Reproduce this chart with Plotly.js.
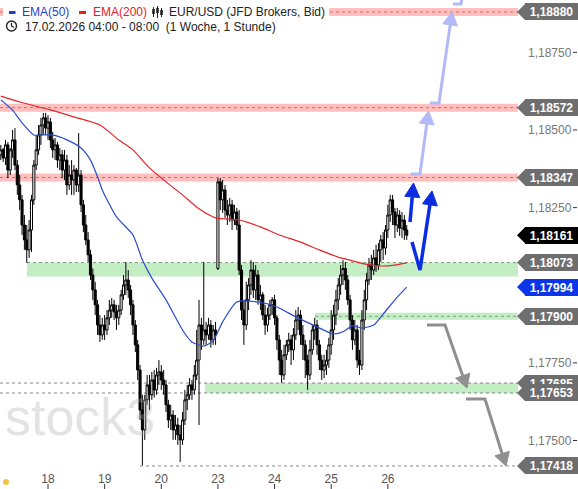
<!DOCTYPE html>
<html><head><meta charset="utf-8">
<script src="https://cdn.plot.ly/plotly-3.0.1.min.js"></script>
<style>html,body{margin:0;padding:0;background:#fff;overflow:hidden}#chart{width:578px;height:489px}</style>
</head><body><div id="chart"></div>
<script>
// ---------- DATA (EUR/USD, 1h candles, 17.02 04:00 -> 26.02 08:00) ----------
const openP = [
1.18420,1.18436,1.18410,1.18452,1.18371,1.18436,1.18468,1.18387,1.18323,1.18275,
1.18194,1.18146,1.18114,1.18178,1.18275,1.18387,1.18436,1.18484,1.18516,1.18539,
1.18506,1.18526,1.18468,1.18436,1.18452,1.18403,1.18420,1.18371,1.18403,1.18323,
1.18355,1.18339,1.18371,1.18323,1.18355,1.18259,1.18194,1.18146,1.18098,1.18033,
1.17985,1.17937,1.17872,1.17840,1.17872,1.17856,1.17895,1.17920,1.17937,1.17914,
1.17895,1.17920,1.17969,1.18001,1.18017,1.17985,1.17937,1.17872,1.17808,1.17727,
1.17598,1.17534,1.17631,1.17679,1.17647,1.17695,1.17663,1.17711,1.17721,1.17695,
1.17679,1.17615,1.17566,1.17582,1.17534,1.17550,1.17518,1.17502,1.17566,1.17631,
1.17647,1.17679,1.17663,1.17711,1.17759,1.17872,1.17824,1.17856,1.17840,1.17872,
1.17824,1.17856,1.18054,1.18333,1.18275,1.18307,1.18242,1.18226,1.18259,1.18210,
1.18236,1.18194,1.18049,1.17920,1.17872,1.17953,1.18001,1.18049,1.17985,1.18033,
1.17953,1.17969,1.17904,1.17872,1.17904,1.17937,1.17953,1.17895,1.17824,1.17759,
1.17711,1.17776,1.17808,1.17824,1.17792,1.17840,1.17888,1.17904,1.17840,1.17808,
1.17759,1.17711,1.17792,1.17856,1.17872,1.17808,1.17759,1.17727,1.17743,1.17759,
1.17808,1.17856,1.17904,1.17953,1.18001,1.18033,1.18054,1.18017,1.17953,1.17888,
1.17824,1.17856,1.17759,1.17743,1.17888,1.17953,1.18017,1.18065,1.18049,1.18088,
1.18065,1.18114,1.18146,1.18120,1.18178,1.18226,1.18275,1.18236,1.18194,1.18226,
1.18184,1.18210,1.18178];
const highP = [
1.18452,1.18442,1.18468,1.18461,1.18442,1.18500,1.18506,1.18403,1.18355,1.18291,
1.18226,1.18194,1.18210,1.18291,1.18403,1.18484,1.18516,1.18539,1.18555,1.18555,
1.18548,1.18539,1.18494,1.18474,1.18461,1.18442,1.18436,1.18436,1.18420,1.18387,
1.18403,1.18387,1.18378,1.18490,1.18371,1.18275,1.18226,1.18171,1.18114,1.18054,
1.18011,1.17953,1.17904,1.17895,1.17904,1.17920,1.17953,1.17959,1.17953,1.17937,
1.17937,1.17985,1.18033,1.18075,1.18049,1.18001,1.17953,1.17888,1.17824,1.17743,
1.17647,1.17647,1.17711,1.17711,1.17721,1.17727,1.17734,1.17759,1.17743,1.17727,
1.17695,1.17631,1.17615,1.17598,1.17582,1.17573,1.17550,1.17592,1.17663,1.17679,
1.17701,1.17695,1.17743,1.17856,1.17953,1.17895,1.18075,1.17882,1.17895,1.17888,
1.17872,1.17882,1.18345,1.18345,1.18339,1.18323,1.18275,1.18281,1.18275,1.18259,
1.18249,1.18242,1.18065,1.17953,1.18011,1.18023,1.18081,1.18075,1.18065,1.18049,
1.18001,1.17978,1.17937,1.17927,1.17953,1.17962,1.17969,1.17904,1.17840,1.17792,
1.17808,1.17824,1.17847,1.17840,1.17862,1.17920,1.17930,1.17920,1.17872,1.17824,
1.17776,1.17824,1.17872,1.17895,1.17888,1.17824,1.17776,1.17776,1.17792,1.17831,
1.17920,1.17937,1.17985,1.18023,1.18065,1.18081,1.18075,1.18033,1.17969,1.17904,
1.17888,1.17872,1.17792,1.17920,1.17985,1.18040,1.18088,1.18098,1.18114,1.18130,
1.18136,1.18162,1.18171,1.18194,1.18259,1.18291,1.18291,1.18249,1.18249,1.18242,
1.18236,1.18226,1.18194];
const lowP = [
1.18403,1.18397,1.18387,1.18345,1.18355,1.18410,1.18371,1.18291,1.18242,1.18162,
1.18114,1.18072,1.18088,1.18107,1.18259,1.18371,1.18420,1.18452,1.18484,1.18484,
1.18468,1.18442,1.18410,1.18403,1.18378,1.18371,1.18345,1.18339,1.18291,1.18307,
1.18291,1.18291,1.18300,1.18300,1.18236,1.18171,1.18130,1.18075,1.18017,1.17953,
1.17904,1.17840,1.17817,1.17824,1.17824,1.17840,1.17872,1.17895,1.17888,1.17856,
1.17872,1.17904,1.17953,1.17969,1.17959,1.17904,1.17840,1.17785,1.17695,1.17566,
1.17420,1.17502,1.17615,1.17598,1.17631,1.17638,1.17647,1.17679,1.17663,1.17647,
1.17592,1.17540,1.17534,1.17502,1.17502,1.17486,1.17431,1.17486,1.17550,1.17598,
1.17631,1.17631,1.17647,1.17695,1.17550,1.17792,1.17808,1.17808,1.17824,1.17799,
1.17808,1.17808,1.18049,1.18242,1.18233,1.18217,1.18194,1.18204,1.18178,1.18194,
1.18178,1.18033,1.17888,1.17808,1.17856,1.17920,1.17969,1.17959,1.17953,1.17937,
1.17920,1.17888,1.17840,1.17850,1.17888,1.17904,1.17872,1.17792,1.17711,1.17685,
1.17695,1.17759,1.17785,1.17743,1.17759,1.17824,1.17856,1.17808,1.17759,1.17701,
1.17663,1.17695,1.17776,1.17824,1.17776,1.17727,1.17695,1.17701,1.17711,1.17734,
1.17776,1.17824,1.17872,1.17920,1.17969,1.18001,1.17985,1.17937,1.17856,1.17792,
1.17808,1.17734,1.17711,1.17727,1.17856,1.17920,1.18001,1.18017,1.18033,1.18043,
1.18049,1.18075,1.18081,1.18098,1.18152,1.18204,1.18194,1.18152,1.18171,1.18159,
1.18152,1.18146,1.18146];
const closeP = [
1.18436,1.18410,1.18452,1.18371,1.18436,1.18468,1.18387,1.18323,1.18275,1.18194,
1.18146,1.18114,1.18178,1.18275,1.18387,1.18436,1.18484,1.18516,1.18539,1.18506,
1.18526,1.18468,1.18436,1.18452,1.18403,1.18420,1.18371,1.18403,1.18323,1.18355,
1.18339,1.18371,1.18323,1.18355,1.18259,1.18194,1.18146,1.18098,1.18033,1.17985,
1.17937,1.17872,1.17840,1.17872,1.17856,1.17895,1.17920,1.17937,1.17914,1.17895,
1.17920,1.17969,1.18001,1.18017,1.17985,1.17937,1.17872,1.17808,1.17727,1.17598,
1.17534,1.17631,1.17679,1.17647,1.17695,1.17663,1.17711,1.17721,1.17695,1.17679,
1.17615,1.17566,1.17582,1.17534,1.17550,1.17518,1.17502,1.17566,1.17631,1.17647,
1.17679,1.17663,1.17711,1.17759,1.17872,1.17824,1.17856,1.17840,1.17872,1.17824,
1.17856,1.17840,1.18333,1.18275,1.18307,1.18242,1.18226,1.18259,1.18210,1.18236,
1.18194,1.18049,1.17920,1.17872,1.17953,1.18001,1.18049,1.17985,1.18033,1.17953,
1.17969,1.17904,1.17872,1.17904,1.17937,1.17953,1.17895,1.17824,1.17759,1.17711,
1.17776,1.17808,1.17824,1.17792,1.17840,1.17888,1.17904,1.17840,1.17808,1.17759,
1.17711,1.17792,1.17856,1.17872,1.17808,1.17759,1.17727,1.17743,1.17759,1.17808,
1.17856,1.17904,1.17953,1.18001,1.18033,1.18054,1.18017,1.17953,1.17888,1.17824,
1.17856,1.17759,1.17743,1.17888,1.17953,1.18017,1.18065,1.18049,1.18088,1.18065,
1.18114,1.18146,1.18120,1.18178,1.18226,1.18275,1.18236,1.18194,1.18226,1.18184,
1.18210,1.18178,1.18161];

// day starts (candle index of 00:00) and their labels
const dayStart  = [20, 44, 68, 92, 116, 140, 164];
const dayLabels = ['18', '19', '20', '23', '24', '25', '26'];

// moving averages (candle index, value)
const ema50Idx = [0,5,9,14,18,22,28,34,38,41,43,49,56,60,64,70,77,81,86,90,94,100,109,117,125,134,141,145,149,153,158,162,168,172];
const ema50    = [1.18597,1.18564,1.18523,1.18484,1.18484,1.18484,1.18468,1.18442,1.18403,1.18349,1.18307,1.18220,1.18162,1.18081,1.18023,1.17953,1.17856,1.17817,1.17804,1.17821,1.17882,1.17946,1.17946,1.17930,1.17898,1.17866,1.17843,1.17850,1.17869,1.17862,1.17872,1.17907,1.17962,1.17994];
const ema200Idx = [0,8,21,31,42,50,56,63,70,77,84,91,101,110,118,127,135,144,148,154,161,167,172];
const ema200    = [1.18609,1.18590,1.18565,1.18542,1.18516,1.18468,1.18436,1.18378,1.18333,1.18291,1.18246,1.18217,1.18210,1.18188,1.18162,1.18139,1.18114,1.18088,1.18081,1.18069,1.18062,1.18065,1.18072];

// price levels
const resistance = [1.18880, 1.18572, 1.18347];
const support    = [1.18073, 1.17900, 1.17685, 1.17653];
const targetLow  = 1.17418;
const labelValues = [1.18880, 1.18572, 1.18347, 1.18161, 1.18073, 1.17994, 1.17900, 1.17685, 1.17653, 1.17418];

const yTicks    = [1.17500, 1.17750, 1.18250, 1.18500, 1.18750];
const yTickText = ['1,17500', '1,17750', '1,18250', '1,18500', '1,18750'];

// ---------- GEOMETRY ----------
const PW = 518, PH = 470;
const Y_MIN = 1.174050, Y_MAX = 1.189186;
const X_MIN = -0.34, X_MAX = 219.15;
const pxX = x => x / PW;
const pxY = y => (PH - y) / PH;
const valY = v => (v - Y_MIN) / (Y_MAX - Y_MIN);
const valPx = v => PH - valY(v) * PH;
const idxX = i => (i - X_MIN) / (X_MAX - X_MIN);
const pt = p => pxX(p[0]) + ',' + pxY(p[1]);

const FONT = 'Arial, "Liberation Sans", sans-serif';
const shapes = [];
const annotations = [];

function rectPx(x0, x1, y0, y1, color, layer) {
  shapes.push({type: 'rect', xref: 'paper', yref: 'paper', x0: pxX(x0), x1: pxX(x1),
    y0: pxY(y1), y1: pxY(y0), fillcolor: color, line: {width: 0}, layer: layer || 'below'});
}
function hline(v, x0, color) {
  const y = valPx(v);
  shapes.push({type: 'line', xref: 'paper', yref: 'paper', x0: pxX(x0), x1: pxX(PW),
    y0: pxY(y), y1: pxY(y), line: {color: color, width: 1, dash: 'dot'}, layer: 'below'});
}

// bands
const RED_BAND = 'rgba(255,170,170,0.75)', GREEN_BAND = 'rgba(170,230,170,0.7)';
resistance.forEach(v => { const y = valPx(v); rectPx(0, PW, y - 4, y + 4, RED_BAND); });
{ const y = valPx(support[0]); rectPx(27, PW, y, y + 14, GREEN_BAND); }
{ const y = valPx(support[1]); rectPx(315, PW, y - 3.5, y + 3.5, GREEN_BAND); }
rectPx(205, PW, valPx(support[2]), valPx(support[3]), GREEN_BAND);

// dotted level lines
resistance.forEach(v => hline(v, 0, '#d86a6a'));
hline(support[0], 27, '#7f9a7f');
hline(support[1], 315, '#7f9a7f');
hline(support[2], 0, '#7f8a7f');
hline(support[3], 0, '#7f8a7f');
hline(targetLow, 140, '#8a8a8a');

// white background behind the legend text
rectPx(3, 329, 2, 20, '#ffffff', 'above');

// arrows
function arrow(points, color, width, headLen, headHW, noHead) {
  const n = points.length;
  let line = points;
  if (!noHead) {
    const T = points[n - 1], A = points[n - 2];
    const dx = T[0] - A[0], dy = T[1] - A[1], L = Math.hypot(dx, dy);
    const ux = dx / L, uy = dy / L;
    const B = [T[0] - ux * headLen, T[1] - uy * headLen];
    line = points.slice(0, n - 1).concat([B]);
    const nx = -uy, ny = ux;
    const p1 = [B[0] + nx * headHW, B[1] + ny * headHW], p2 = [B[0] - nx * headHW, B[1] - ny * headHW];
    shapes.push({type: 'path', xref: 'paper', yref: 'paper', layer: 'above',
      path: 'M' + pt(T) + ' L' + pt(p1) + ' L' + pt(p2) + ' Z', fillcolor: color, line: {color: color, width: 1}});
  }
  shapes.push({type: 'path', xref: 'paper', yref: 'paper', layer: 'above',
    path: 'M' + line.map(pt).join(' L'), fillcolor: 'rgba(0,0,0,0)', line: {color: color, width: width}});
}
const LB = '#b3b9f7', DB = '#0b2de0', GR = '#8f8f8f';
arrow([[411, 174], [420, 174], [428.5, 111]], LB, 3, 13, 7.5);
arrow([[430, 103], [439, 103], [452, 12]], LB, 3, 13, 7.5);
arrow([[453, 4], [461, 4], [462.5, -6]], LB, 3, 0, 0, true);
arrow([[412, 242], [420, 270], [432, 191]], DB, 3.5, 14, 7.5);
arrow([[410, 222], [413.5, 183]], DB, 3.5, 14, 7.5);
arrow([[427, 325], [445, 325], [467, 388]], GR, 3, 13, 7.5);
arrow([[466, 399], [485, 399], [506, 466]], GR, 3, 13, 7.5);

// price labels on the right
const labelColors = ['#6e6e6e', '#6e6e6e', '#6e6e6e', '#000000', '#6e6e6e', '#0a35e8', '#6e6e6e', '#6e6e6e', '#6e6e6e', '#6e6e6e'];
labelValues.forEach((v, k) => {
  const y = valPx(v);
  shapes.push({type: 'path', xref: 'paper', yref: 'paper', layer: 'above',
    path: 'M' + pt([517, y]) + ' L' + pt([525.5, y - 8.5]) + ' L' + pt([525.5, y + 8.5]) + ' Z',
    fillcolor: labelColors[k], line: {width: 0}});
  annotations.push({xref: 'paper', yref: 'paper', x: pxX(525), y: pxY(y), xanchor: 'left', yanchor: 'middle',
    text: v.toFixed(5).replace('.', ','), showarrow: false, bgcolor: labelColors[k], borderwidth: 0,
    borderpad: 2, width: 49, height: 13, align: 'center',
    font: {family: FONT, size: 12, color: '#ffffff', weight: 'bold'}});
});

// small dashes after the y tick labels
yTicks.forEach(v => {
  const y = valPx(v);
  shapes.push({type: 'line', xref: 'paper', yref: 'paper', x0: pxX(573), x1: pxX(577), y0: pxY(y), y1: pxY(y),
    line: {color: '#333', width: 1}});
});
// x tick marks below the labels
dayStart.forEach(i => {
  shapes.push({type: 'line', xref: 'paper', yref: 'paper', x0: idxX(i), x1: idxX(i), y0: pxY(484), y1: pxY(489),
    line: {color: '#333', width: 1}});
});

// legend / header
shapes.push({type: 'line', xref: 'paper', yref: 'paper', x0: pxX(9), x1: pxX(15.5), y0: pxY(12.5), y1: pxY(12.5), line: {color: '#1f3fd0', width: 3}});
shapes.push({type: 'line', xref: 'paper', yref: 'paper', x0: pxX(79), x1: pxX(86), y0: pxY(12.5), y1: pxY(12.5), line: {color: '#e8201c', width: 3}});
// candle icon
[[153.5, 7, 17, 9, 14], [157.5, 6, 18, 8, 13], [161.5, 8, 17, 10, 15]].forEach(c => {
  shapes.push({type: 'line', xref: 'paper', yref: 'paper', x0: pxX(c[0]), x1: pxX(c[0]), y0: pxY(c[1]), y1: pxY(c[2]), line: {color: '#222', width: 1}});
  rectPx(c[0] - 1.3, c[0] + 1.3, c[3], c[4], '#222', 'above');
});
// clock icon
shapes.push({type: 'circle', xref: 'paper', yref: 'paper', x0: pxX(6.5), x1: pxX(16.5), y0: pxY(31), y1: pxY(21), line: {color: '#222', width: 1.4}, fillcolor: 'rgba(0,0,0,0)'});
shapes.push({type: 'path', xref: 'paper', yref: 'paper', path: 'M' + pt([11.5, 22.8]) + ' L' + pt([11.5, 26]) + ' L' + pt([14, 27.5]), line: {color: '#222', width: 1.3}, fillcolor: 'rgba(0,0,0,0)'});
// yellow dot
shapes.push({type: 'circle', xref: 'paper', yref: 'paper', x0: pxX(3), x1: pxX(9), y0: pxY(485), y1: pxY(479), line: {width: 0}, fillcolor: '#f6c443'});

function txt(text, x, y, color, size) {
  annotations.push({xref: 'paper', yref: 'paper', x: pxX(x), y: pxY(y), xanchor: 'left', yanchor: 'middle',
    text: text, showarrow: false, font: {family: FONT, size: size || 12, color: color}});
}
txt('EMA(50)', 20, 12, '#1f3fd0');
txt('EMA(200)', 91, 12, '#e8201c');
txt('EUR/USD (JFD Brokers, Bid)', 167, 12, '#222');
txt('17.02.2026 04:00 - 08:00 \u00a0(1 Woche, 1 Stunde)', 23, 27, '#222');

// watermark
annotations.unshift({xref: 'paper', yref: 'paper', x: pxX(3), y: pxY(417), xanchor: 'left', yanchor: 'middle',
  text: 'stock3', showarrow: false, font: {family: FONT, size: 52, color: 'rgba(170,170,170,0.33)'}});

// ---------- TRACES ----------
const idx = closeP.map((_, i) => i);
const traces = [
  {type: 'candlestick', x: idx, open: openP, high: highP, low: lowP, close: closeP,
    increasing: {line: {color: '#000', width: 1}, fillcolor: '#ffffff'},
    decreasing: {line: {color: '#000', width: 1}, fillcolor: '#000000'},
    whiskerwidth: 0, hoverinfo: 'skip', showlegend: false},
  {type: 'scatter', mode: 'lines', x: ema200Idx, y: ema200, line: {color: '#e3262a', width: 1.2, shape: 'spline', smoothing: 0.6}, hoverinfo: 'skip', showlegend: false},
  {type: 'scatter', mode: 'lines', x: ema50Idx, y: ema50, line: {color: '#2a4bd0', width: 1.2, shape: 'spline', smoothing: 0.6}, hoverinfo: 'skip', showlegend: false}
];

const layout = {
  width: 578, height: 489,
  margin: {l: 0, r: 60, t: 0, b: 19, pad: 0},
  paper_bgcolor: '#ffffff', plot_bgcolor: '#ffffff',
  font: {family: FONT, size: 12, color: '#555'},
  showlegend: false,
  boxgap: 0.12, boxgroupgap: 0,
  xaxis: {range: [X_MIN, X_MAX], tickmode: 'array', tickvals: dayStart, ticktext: dayLabels,
    showgrid: false, zeroline: false, showline: false, ticks: '', rangeslider: {visible: false},
    tickfont: {family: FONT, size: 12, color: '#555'}, fixedrange: true},
  yaxis: {range: [Y_MIN, Y_MAX], side: 'right', tickmode: 'array', tickvals: yTicks, ticktext: yTickText,
    showgrid: false, zeroline: false, showline: false, ticks: '', ticklabelstandoff: 9,
    tickfont: {family: FONT, size: 12, color: '#777'}, fixedrange: true},
  shapes: shapes,
  annotations: annotations
};

Plotly.newPlot('chart', traces, layout, {staticPlot: true, displayModeBar: false});
</script>
</body></html>
